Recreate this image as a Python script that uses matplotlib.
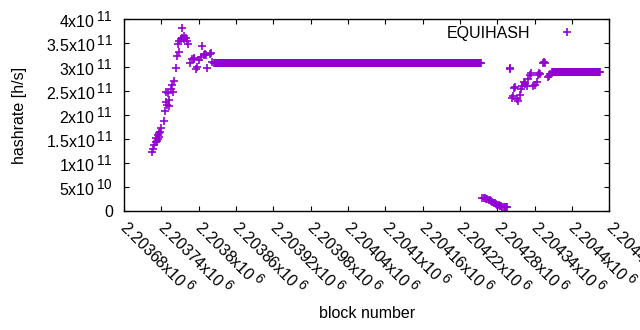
import numpy as np
import matplotlib
matplotlib.use('Agg')
from matplotlib import pyplot as plt
import matplotlib._mathtext as mathtext_internal
from matplotlib.ticker import MultipleLocator, FuncFormatter
from matplotlib.transforms import ScaledTranslation

plt.rcParams['font.family'] = ['Liberation Sans', 'DejaVu Sans']
plt.rcParams['mathtext.default'] = 'regular'
plt.rcParams['font.size'] = 11.5
# gnuplot draws its exponents nearly full size
mathtext_internal.SHRINK_FACTOR = 0.85

# ramp up at the start (block, hashrate in units of 1e11 h/s)
early_blocks = [2203725, 2203727, 2203729, 2203731, 2203732, 2203733, 2203734, 2203735, 2203736,
                2203737, 2203738, 2203740, 2203744, 2203746, 2203747, 2203748, 2203749, 2203750,
                2203752, 2203753, 2203755, 2203757, 2203759, 2203761, 2203763, 2203765, 2203766,
                2203768, 2203769, 2203771, 2203773, 2203774, 2203776, 2203777, 2203779, 2203781,
                2203783, 2203786, 2203790, 2203792, 2203793, 2203796, 2203797, 2203801, 2203803,
                2203805, 2203808, 2203810, 2203811, 2203814, 2203818, 2203820, 2203822]
early_rates = [1.24, 1.30, 1.38, 1.45, 1.52, 1.47, 1.58, 1.50, 1.62,
               1.55, 1.65, 1.73, 1.88, 2.09, 2.48, 2.27, 2.21, 2.47,
               2.32, 2.19, 2.55, 2.63, 2.48, 2.72, 2.99, 3.23, 3.48,
               3.32, 3.55, 3.58, 3.82, 3.62, 3.66, 3.58, 3.60, 3.55,
               3.48, 3.08, 3.17, 3.20, 3.18, 2.97, 3.00, 3.15, 3.22,
               3.44, 3.25, 3.27, 3.25, 2.99, 3.28, 3.30, 3.10]

# long constant stretch
flat1_start, flat1_end, flat1_rate = 2203825, 2204253, 3.08

# the drop
drop_blocks = list(range(2204256, 2204297, 2))
drop_rates = [0.27, 0.27, 0.265, 0.255, 0.245, 0.235, 0.22, 0.205, 0.19, 0.175, 0.16,
              0.145, 0.13, 0.115, 0.10, 0.095, 0.09, 0.085, 0.08, 0.08, 0.08]

# recovery
late_blocks = [2204300, 2204301, 2204304, 2204306, 2204307, 2204309, 2204311, 2204314, 2204316,
               2204318, 2204320, 2204323, 2204325, 2204327, 2204329, 2204332, 2204334, 2204338,
               2204341, 2204343, 2204345, 2204347, 2204349, 2204353, 2204355, 2204356, 2204361,
               2204363, 2204365]
late_rates = [2.98, 2.97, 2.36, 2.40, 2.56, 2.58, 2.33, 2.30, 2.42,
              2.55, 2.60, 2.70, 2.66, 2.61, 2.75, 2.84, 2.87, 2.60,
              2.63, 2.70, 2.84, 2.87, 2.86, 3.09, 3.10, 3.09, 2.80,
              2.81, 2.86]

flat2_start, flat2_end, flat2_rate = 2204368, 2204445, 2.89

blocks = np.concatenate([early_blocks,
                         np.arange(flat1_start, flat1_end + 1),
                         drop_blocks,
                         late_blocks,
                         np.arange(flat2_start, flat2_end + 1)])
rates = np.concatenate([early_rates,
                        np.full(flat1_end - flat1_start + 1, flat1_rate),
                        drop_rates,
                        late_rates,
                        np.full(flat2_end - flat2_start + 1, flat2_rate)]) * 1e11


def sci_label(v, pos=None):
    if v == 0:
        return '0'
    e = int(np.floor(np.log10(abs(v)) + 1e-9))
    m = v / 10 ** e
    return '%sx10$^{\\,%d}$' % (('%.6g' % m), e)


fig = plt.figure(figsize=(6.4, 3.3), dpi=100)
ax = fig.add_axes([124 / 640, 1 - 211 / 330, 485.3 / 640, 191.7 / 330])

ax.plot(blocks, rates, linestyle='none', marker='+', color='#9400d3',
        markersize=5.8, markeredgewidth=1.2, label='EQUIHASH')

ax.set_xlim(2203680, 2204460)
ax.set_ylim(0, 4e11)
ax.xaxis.set_major_locator(MultipleLocator(60))
ax.yaxis.set_major_locator(MultipleLocator(5e10))
ax.xaxis.set_major_formatter(FuncFormatter(sci_label))
ax.yaxis.set_major_formatter(FuncFormatter(sci_label))

ax.tick_params(direction='in', length=3.5, width=0.8, top=True, right=True,
               labelsize=11.5, colors='black')
ax.tick_params(axis='y', pad=8)
ax.tick_params(axis='x', pad=7)
shift = ScaledTranslation(0.07, 0.045, fig.dpi_scale_trans)
for lbl in ax.get_xticklabels():
    lbl.set_rotation(-45)
    lbl.set_ha('left')
    lbl.set_va('top')
    lbl.set_rotation_mode('anchor')
    lbl.set_transform(lbl.get_transform() + shift)
for sp in ax.spines.values():
    sp.set_linewidth(1.0)

ax.set_ylabel('hashrate [h/s]', fontsize=11.5)
ax.yaxis.set_label_coords(-0.2, 0.5)
ax.set_xlabel('block number', fontsize=11.5)
ax.xaxis.set_label_coords(0.5, -0.495)
ax.xaxis.label.set_va('top')

ax.legend(loc='upper right', bbox_to_anchor=(0.946, 0.965), frameon=False, markerfirst=False,
          handlelength=2, handletextpad=1.3, borderpad=0, borderaxespad=0, fontsize=11.5)

fig.savefig('out.png', dpi=100)
